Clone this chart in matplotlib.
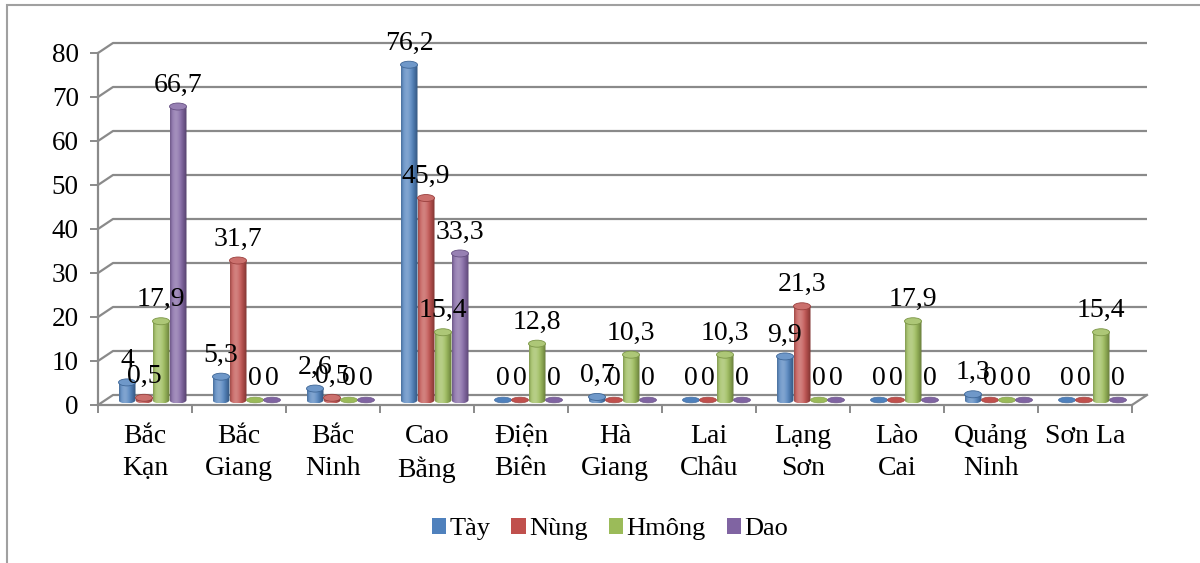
import numpy as np
import matplotlib
matplotlib.use("Agg")
import matplotlib.pyplot as plt
from matplotlib.patches import Polygon, Ellipse, Rectangle, Patch
from matplotlib.colors import to_rgb

# ---- data -------------------------------------------------------------
provinces = ["Bắc\nKạn", "Bắc\nGiang", "Bắc\nNinh", "Cao\nBằng", "Điện\nBiên",
             "Hà\nGiang", "Lai\nChâu", "Lạng\nSơn", "Lào\nCai", "Quảng\nNinh",
             "Sơn La"]
tay = [4, 5.3, 2.6, 76.2, 0, 0.7, 0, 9.9, 0, 1.3, 0]
nung = [0.5, 31.7, 0.5, 45.9, 0, 0, 0, 21.3, 0, 0, 0]
hmong = [17.9, 0, 0, 15.4, 12.8, 10.3, 10.3, 0, 17.9, 0, 15.4]
dao = [66.7, 0, 0, 33.3, 0, 0, 0, 0, 0, 0, 0]
series_names = ["Tày", "Nùng", "Hmông", "Dao"]
series_colors = ["#4F81BD", "#C0504D", "#9BBB59", "#8064A2"]
y_ticks = [0, 10, 20, 30, 40, 50, 60, 70, 80]

plt.rcParams["font.family"] = ["Liberation Serif", "DejaVu Serif"]
GRID = "#8a8a8a"

# ---- layout (pixels) --------------------------------------------------
W, H = 1200, 563
fig = plt.figure(figsize=(W / 100, H / 100), dpi=100)
left_px, right_px, base_px, top_px = 98, 1132, 405, 53
ax = fig.add_axes([left_px / W, (H - base_px) / H,
                   (right_px - left_px) / W, (base_px - top_px) / H])
ax.patch.set_visible(False)
n = len(provinces)
ymax = y_ticks[-1]
ux = (right_px - left_px) / n          # pixels per category
uy = (base_px - top_px) / ymax         # pixels per value unit
ddx = 15 / ux                          # depth offset of back wall
ddy = 10 / uy
bw = 17 / ux                           # column width
eh = 7 / uy                            # height of column end ellipses

# back wall, left wall and floor gridlines
for v in y_ticks:
    ax.plot([0, ddx, n + ddx], [v, v + ddy, v + ddy], color=GRID, lw=1.6,
            clip_on=False, zorder=1, solid_capstyle="butt")
ax.plot([n, n + ddx], [0, ddy], color=GRID, lw=1.6, clip_on=False, zorder=1)

# axes
for side in ["top", "right"]:
    ax.spines[side].set_visible(False)
for side in ["left", "bottom"]:
    ax.spines[side].set_color(GRID)
    ax.spines[side].set_linewidth(1.6)
    ax.spines[side].set_zorder(2)
ax.set_yticks(y_ticks)
ax.set_yticklabels([str(t) for t in y_ticks], fontsize=19.5)
ax.tick_params(axis="y", length=5.8, width=1.4, color=GRID, pad=8.0)
ax.set_xticks(np.arange(n + 1))
ax.set_xticklabels([])
ax.tick_params(axis="x", which="major", length=5.8, width=1.4, color=GRID)
ax.set_xticks(np.arange(n) + 0.5, minor=True)
ax.set_xticklabels(provinces, minor=True, fontsize=20, linespacing=1.35)
ax.tick_params(axis="x", which="minor", length=0, pad=14)


def mix(c, other, t):
    c = np.array(to_rgb(c))
    o = np.array(to_rgb(other))
    return c * (1 - t) + o * t


def shade_profile(color, m=64):
    base = np.array(to_rgb(color))
    s = np.linspace(0, 1, m)
    # darker rims, light band left of centre
    light = np.exp(-((s - 0.35) / 0.28) ** 2)
    dark = np.clip((s - 0.55) / 0.45, 0, 1) ** 1.5 * 0.35 + np.clip((0.15 - s) / 0.15, 0, 1) * 0.2
    rgb = base[None, :] * (1 - dark[:, None])
    rgb = rgb + (1 - rgb) * (0.28 * light[:, None])
    return rgb[None, :, :]


all_series = [tay, nung, hmong, dao]
y0 = ddy / 2
for s, (vals, col) in enumerate(zip(all_series, series_colors)):
    for i, v in enumerate(vals):
        xc = i + 0.5 + (s - 1.5) * bw + ddx / 2
        top = v + y0
        if v > 0:
            t = np.linspace(np.pi, 2 * np.pi, 40)
            pts = [(xc - bw / 2, top)]
            pts += list(zip(xc + bw / 2 * np.cos(t), y0 + eh / 2 * np.sin(t)))
            pts += [(xc + bw / 2, top)]
            side = Polygon(pts, closed=True, facecolor="none", edgecolor="none",
                           zorder=3)
            ax.add_patch(side)
            im = ax.imshow(shade_profile(col), extent=[xc - bw / 2, xc + bw / 2,
                                                       y0 - eh / 2, top],
                           aspect="auto", interpolation="bilinear", zorder=3)
            im.set_clip_path(side)
            ax.add_patch(Ellipse((xc, top), bw, eh, facecolor=mix(col, "white", 0.18),
                                 edgecolor=mix(col, "black", 0.2), lw=0.6, zorder=4))
        else:
            ax.add_patch(Ellipse((xc, y0), bw, eh * 0.8, facecolor=col,
                                 edgecolor=mix(col, "black", 0.15), lw=0.5, zorder=3))
        lab = ("%g" % v).replace(".", ",")
        ax.annotate(lab, (xc, top), xytext=(0, 10.8), textcoords="offset points",
                    ha="center", va="baseline", fontsize=20, color="black",
                    zorder=6, annotation_clip=False)

ax.set_xlim(0, n)
ax.set_ylim(0, ymax)

# legend
handles = [Patch(facecolor=c, edgecolor="none", label=lbl)
           for c, lbl in zip(series_colors, series_names)]
fig.legend(handles=handles, loc="center", bbox_to_anchor=(610 / W, (H - 529) / H),
           ncol=4, frameon=False, fontsize=19, handlelength=0.55, handleheight=0.55,
           handletextpad=0.12, columnspacing=0.8)

# chart area border
fig.patches.append(Rectangle((7 / W, -0.05), 1.2, (H - 5) / H + 0.05,
                             transform=fig.transFigure, fill=False,
                             edgecolor="#a0a0a0", lw=1.5))

fig.savefig("out.png", dpi=100)
